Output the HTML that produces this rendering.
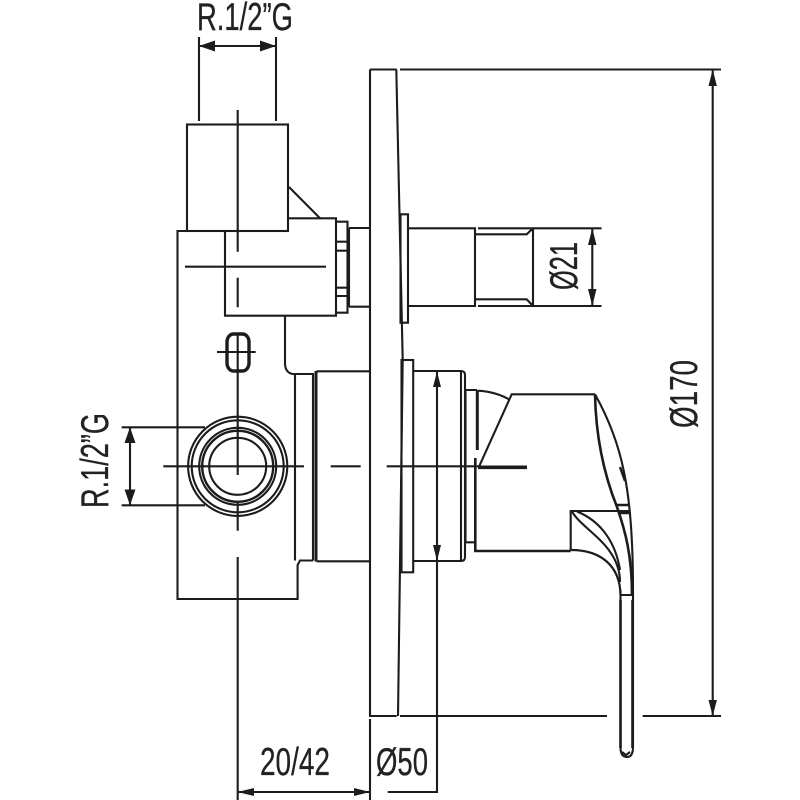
<!DOCTYPE html>
<html><head><meta charset="utf-8"><style>
html,body{margin:0;padding:0;background:#fff}
svg{display:block}
text{font-family:"Liberation Sans",sans-serif;font-size:39px;fill:#222;stroke:#222;stroke-width:.3}
</style></head><body>
<svg width="800" height="800" viewBox="0 0 800 800" xmlns="http://www.w3.org/2000/svg">
<g fill="none" stroke="#1c1c1c" stroke-width="2.1">
<!-- upper box & body -->
<rect x="187" y="124.5" width="101" height="106.5"/>
<path d="M187 231H177.5V599H297.6V565L300 560.5H313"/>
<path d="M225 231V315.7H336V218.3H288"/>
<path d="M289 187L320 218.3"/>
<path d="M336 221.7H347.5V312.7H336M336 241.7H347.5M336 250.7H347.5M336 287.7H347.5M336 296H347.5"/>
<path d="M349 228V306.7M349 228H370M349 306.7H370"/>
<path d="M285 316V364Q285.5 373 293 374H313V560.5M295 374V560.5"/>
<path d="M316.5 371.3H370M316.5 561.3H370"/>
<path d="M316 371V561.5" stroke-width="3"/>
<!-- plate -->
<path d="M370 69.5V716H396.7M400 716H607M642.7 716H721"/>
<path d="M370 69.5H396.7M400 69.5H721"/>
<path d="M396.3 69.5L402.7 360L398 716"/>
<rect x="400.5" y="214.3" width="7.5" height="108.4"/>
<rect x="401.5" y="360" width="11.7" height="212.3"/>
<!-- upper shaft -->
<path d="M408 228.3H475V306H408M475 228.3V306M478 228.3H601.5M478 306H601.5M533 228.3V306M475 234.3H526.7L533 228.3M475 299.3H526.7L533 306"/>
<!-- lower shaft -->
<path d="M413 371H461Q465 371 465 375V557Q465 561 461 561H413M461 371V561"/>
<path d="M465.5 390H477M465.5 542.3H475M465.5 390V542.3"/>
<path d="M477.3 390V450" stroke-width="3"/>
<path d="M475.3 458V551H570.7" stroke-width="2.6"/>
<!-- handle -->
<path d="M478.3 390.7Q497 392 510 400"/>
<path d="M479 466.7L511.7 394.3H595"/>
<path d="M595 394.3Q616 432 624 472Q633 515 633 590V747Q633 757 627 757Q620.5 757 620.5 747V590"/>
<path d="M595 394.3C596 445 607 482 617 507C625 530 632 555 632 595" stroke-width="2.6"/>
<path d="M570.7 550V511H630"/>
<path d="M570.7 550C600 550 620 565 620.5 595" stroke-width="2.2"/>
<path d="M571.7 511C582 530 620 545 620 582"/>
<path d="M577 511.5C603 522 616 545 620 570"/>
<path d="M620.5 595H633M617 505H630M618 513H631" />
<path d="M617 505H630M618 513H631" stroke-width="2.6"/>
<path d="M620 467L625 481" stroke-width="2.4"/>
<path d="M620.5 600V748M632.5 600V748" stroke-width="2.6"/>
<path d="M622 752L626 755L630 752"/>
<!-- circles -->
<circle cx="237.7" cy="466.3" r="49.6"/>
<circle cx="237.7" cy="466.3" r="46"/>
<circle cx="237.7" cy="466.3" r="38.5"/>
<circle cx="237.7" cy="466.3" r="35.5" stroke-width="2.4"/>
<circle cx="237.7" cy="466.3" r="28.5"/>
<!-- oval -->
<rect x="227" y="334" width="22" height="37" rx="6.5" ry="8" stroke-width="3.4"/>
<!-- center lines -->
<path d="M237.7 110V251.7M237.7 277.7V307.3M237.7 333V475M237.7 503V530.7M237.7 557V800"/>
<path d="M185 266.7H326M217 352H255.7"/>
<path d="M163.3 466.3H304M330.7 466.3H360.7M386.7 466.3H478"/>
<path d="M478 467.3H527" stroke-width="3.6"/>
<!-- dimensions -->
<path d="M199 37V121M276 37V121M199 46H276"/>
<path d="M121.7 427.3H205M121.7 505.3H205M130 427.3V505.3"/>
<path d="M592.3 228.3V306"/>
<path d="M712.7 69.5V716"/>
<path d="M437 371V792H387.7M370 719V800M237.5 792H370"/>
</g>
<g fill="#1c1c1c">
<path d="M199 46L215 40.5V51.5ZM276 46L260 40.5V51.5Z"/>
<path d="M130 427.3L124.5 443H135.5ZM130 505.3L124.5 489.5H135.5Z"/>
<path d="M592.3 228.3L588 245H596.5ZM592.3 306L588 289H596.5Z"/>
<path d="M712.7 69.5L708.5 86H716.9ZM712.7 716L708.5 700H716.9Z"/>
<path d="M437 371.5L433 387H441ZM437 561L433 545H441Z"/>
<path d="M237.5 792L254 788V796ZM370 792L354 788V796Z"/>
</g>
<g>
<text x="197" y="30" textLength="96" lengthAdjust="spacingAndGlyphs">R.1/2”G</text>
<text x="260" y="775" textLength="70" lengthAdjust="spacingAndGlyphs">20/42</text>
<text x="376" y="775" textLength="52" lengthAdjust="spacingAndGlyphs">Ø50</text>
<text transform="translate(577,290) rotate(-90)" textLength="48" lengthAdjust="spacingAndGlyphs">Ø21</text>
<text transform="translate(697,428) rotate(-90)" textLength="68" lengthAdjust="spacingAndGlyphs">Ø170</text>
<text transform="translate(108,508) rotate(-90)" textLength="95" lengthAdjust="spacingAndGlyphs">R.1/2”G</text>
</g>
</svg>
</body></html>
